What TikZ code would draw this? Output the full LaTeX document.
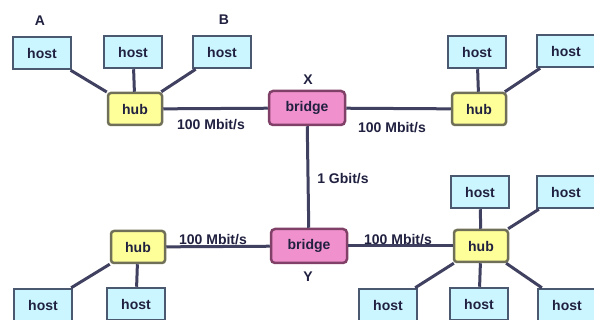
\documentclass[tikz,border=0pt]{standalone}
\usepackage{fontspec}
\setmainfont{Liberation Sans}
\begin{document}
\begin{tikzpicture}[x=1pt,y=-1pt,
  txt/.style={font=\bfseries\fontsize{14}{16}\selectfont,text=textcol},
  hostbox/.style={txt,draw=hostline,fill=hostfill,line width=2.5pt,minimum width=58pt,minimum height=32pt,inner sep=0pt},
  hubbox/.style={txt,draw=hubline,fill=hubfill,line width=2.5pt,rounded corners=3pt,minimum width=54pt,minimum height=32pt,inner sep=0pt},
  bridgebox/.style={txt,draw=bridgeline,fill=bridgefill,line width=2.5pt,rounded corners=4pt,minimum width=76pt,minimum height=34pt,inner sep=0pt},
  link/.style={draw=linkcol,line width=3pt},
  lbl/.style={txt,inner sep=0pt}]
\definecolor{hostline}{HTML}{4A5870}
\definecolor{hostfill}{HTML}{CCF6FF}
\definecolor{hubline}{HTML}{707058}
\definecolor{hubfill}{HTML}{FFFF99}
\definecolor{bridgeline}{HTML}{804068}
\definecolor{bridgefill}{HTML}{F090CC}
\definecolor{linkcol}{HTML}{404060}
\definecolor{textcol}{HTML}{202040}
\useasboundingbox (0,0) rectangle (594,320);
\begin{scope}
\clip (0,0) rectangle (594,320);
% nodes
\node[bridgebox] (bx) at (307,108) {bridge};
\node[bridgebox] (by) at (309,246) {bridge};
\node[hubbox] (h1) at (135,109) {hub};
\node[hubbox] (h2) at (479,109) {hub};
\node[hubbox] (h3) at (138,247) {hub};
\node[hubbox] (h4) at (481,246) {hub};
\node[hostbox] (a) at (42,53) {host};
\node[hostbox] (m1) at (133,52) {host};
\node[hostbox] (b) at (222,52) {host};
\node[hostbox] (r1) at (477,52) {host};
\node[hostbox] (r2) at (566,51) {host};
\node[hostbox] (l1) at (43,305) {host};
\node[hostbox] (l2) at (136,304) {host};
\node[hostbox] (s1) at (480,192) {host};
\node[hostbox] (s2) at (566,192) {host};
\node[hostbox] (s3) at (388,305) {host};
\node[hostbox] (s4) at (479,304) {host};
\node[hostbox] (s5) at (567,305) {host};
% links
\path[link] (h1) -- (bx);
\path[link] (bx) -- (h2);
\path[link] (bx) -- (by);
\path[link] (h3) -- (by);
\path[link] (by) -- (h4);
\path[link] (a) -- (h1);
\path[link] (m1) -- (h1);
\path[link] (b) -- (h1);
\path[link] (r1) -- (h2);
\path[link] (r2) -- (h2);
\path[link] (l1) -- (h3);
\path[link] (l2) -- (h3);
\path[link] (s1) -- (h4);
\path[link] (s2) -- (h4);
\path[link] (s3) -- (h4);
\path[link] (s4) -- (h4);
\path[link] (s5) -- (h4);
\end{scope}
% labels
\node[lbl] (la) at (40,21) {A};
\node[lbl] (lb) at (224,20) {B};
\node[lbl] (lx) at (308,80) {X};
\node[lbl] (ly) at (308,277) {Y};
\node[lbl] (t1) at (211,125) {100 Mbit/s};
\node[lbl] (t2) at (392,128) {100 Mbit/s};
\node[lbl] (t3) at (343,179) {1 Gbit/s};
\node[lbl] (t4) at (213,240) {100 Mbit/s};
\node[lbl] (t5) at (398,240) {100 Mbit/s};
\end{tikzpicture}
\end{document}
